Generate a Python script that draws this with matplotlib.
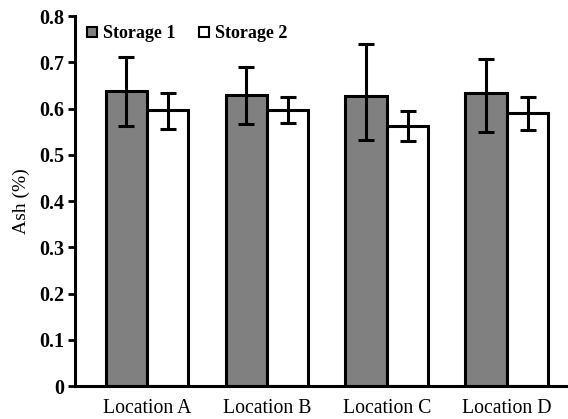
import matplotlib
matplotlib.use("Agg")
import matplotlib.pyplot as plt
import numpy as np
from matplotlib.lines import Line2D

locations = ["Location A", "Location B", "Location C", "Location D"]
storage1 = [0.638, 0.630, 0.628, 0.633]
storage1_lo = [0.562, 0.567, 0.532, 0.550]
storage1_hi = [0.712, 0.690, 0.740, 0.708]
storage2 = [0.597, 0.597, 0.563, 0.590]
storage2_lo = [0.556, 0.568, 0.530, 0.553]
storage2_hi = [0.633, 0.625, 0.595, 0.625]
y_ticks = [0, 0.1, 0.2, 0.3, 0.4, 0.5, 0.6, 0.7, 0.8]
y_tick_labels = ["0", "0.1", "0.2", "0.3", "0.4", "0.5", "0.6", "0.7", "0.8"]

plt.rcParams["font.family"] = ["Liberation Serif", "DejaVu Serif"]

fig = plt.figure(figsize=(5.68, 4.19), dpi=100)
ax = fig.add_axes([75 / 568, 33 / 419, 493 / 568, 370 / 419])

x = np.arange(len(locations))
w = 0.345
s1 = np.array(storage1)
s2 = np.array(storage2)
err1 = [s1 - np.array(storage1_lo), np.array(storage1_hi) - s1]
err2 = [s2 - np.array(storage2_lo), np.array(storage2_hi) - s2]

ax.bar(x - w / 2, s1, width=w, color="#808080", edgecolor="black", linewidth=2.2, zorder=2)
ax.bar(x + w / 2, s2, width=w, color="white", edgecolor="black", linewidth=2.2, zorder=2)
ax.errorbar(x - w / 2, s1, yerr=err1, fmt="none", ecolor="black", elinewidth=2.2,
            capsize=5.5, capthick=2.2, zorder=3)
ax.errorbar(x + w / 2, s2, yerr=err2, fmt="none", ecolor="black", elinewidth=2.2,
            capsize=5.5, capthick=2.2, zorder=3)

ax.set_xlim(-0.6, 3.51)
ax.set_ylim(0, 0.8)
ax.set_yticks(y_ticks)
ax.set_yticklabels(y_tick_labels, fontsize=14.5, fontweight="bold")
ax.set_xticks(x)
ax.set_xticklabels(locations, fontsize=14.2)
ax.tick_params(axis="x", length=0, pad=9)
ax.tick_params(axis="y", direction="out", length=5, width=2, pad=3)
ax.set_ylabel("Ash (%)", fontsize=14, labelpad=6)

for side in ["top", "right"]:
    ax.spines[side].set_visible(False)
for side in ["left", "bottom"]:
    ax.spines[side].set_linewidth(2.2)

handles = [
    Line2D([], [], marker="s", linestyle="none", markersize=7, markerfacecolor="#808080",
           markeredgecolor="black", markeredgewidth=1.5),
    Line2D([], [], marker="s", linestyle="none", markersize=7, markerfacecolor="white",
           markeredgecolor="black", markeredgewidth=1.5),
]
ax.legend(handles, ["Storage 1", "Storage 2"], loc="upper left", bbox_to_anchor=(-0.01, 1.02),
          ncol=2, frameon=False, handlelength=0.6, handletextpad=0.3,
          columnspacing=1.3, prop={"size": 13, "weight": "bold"})

fig.savefig("out.png", dpi=100)
